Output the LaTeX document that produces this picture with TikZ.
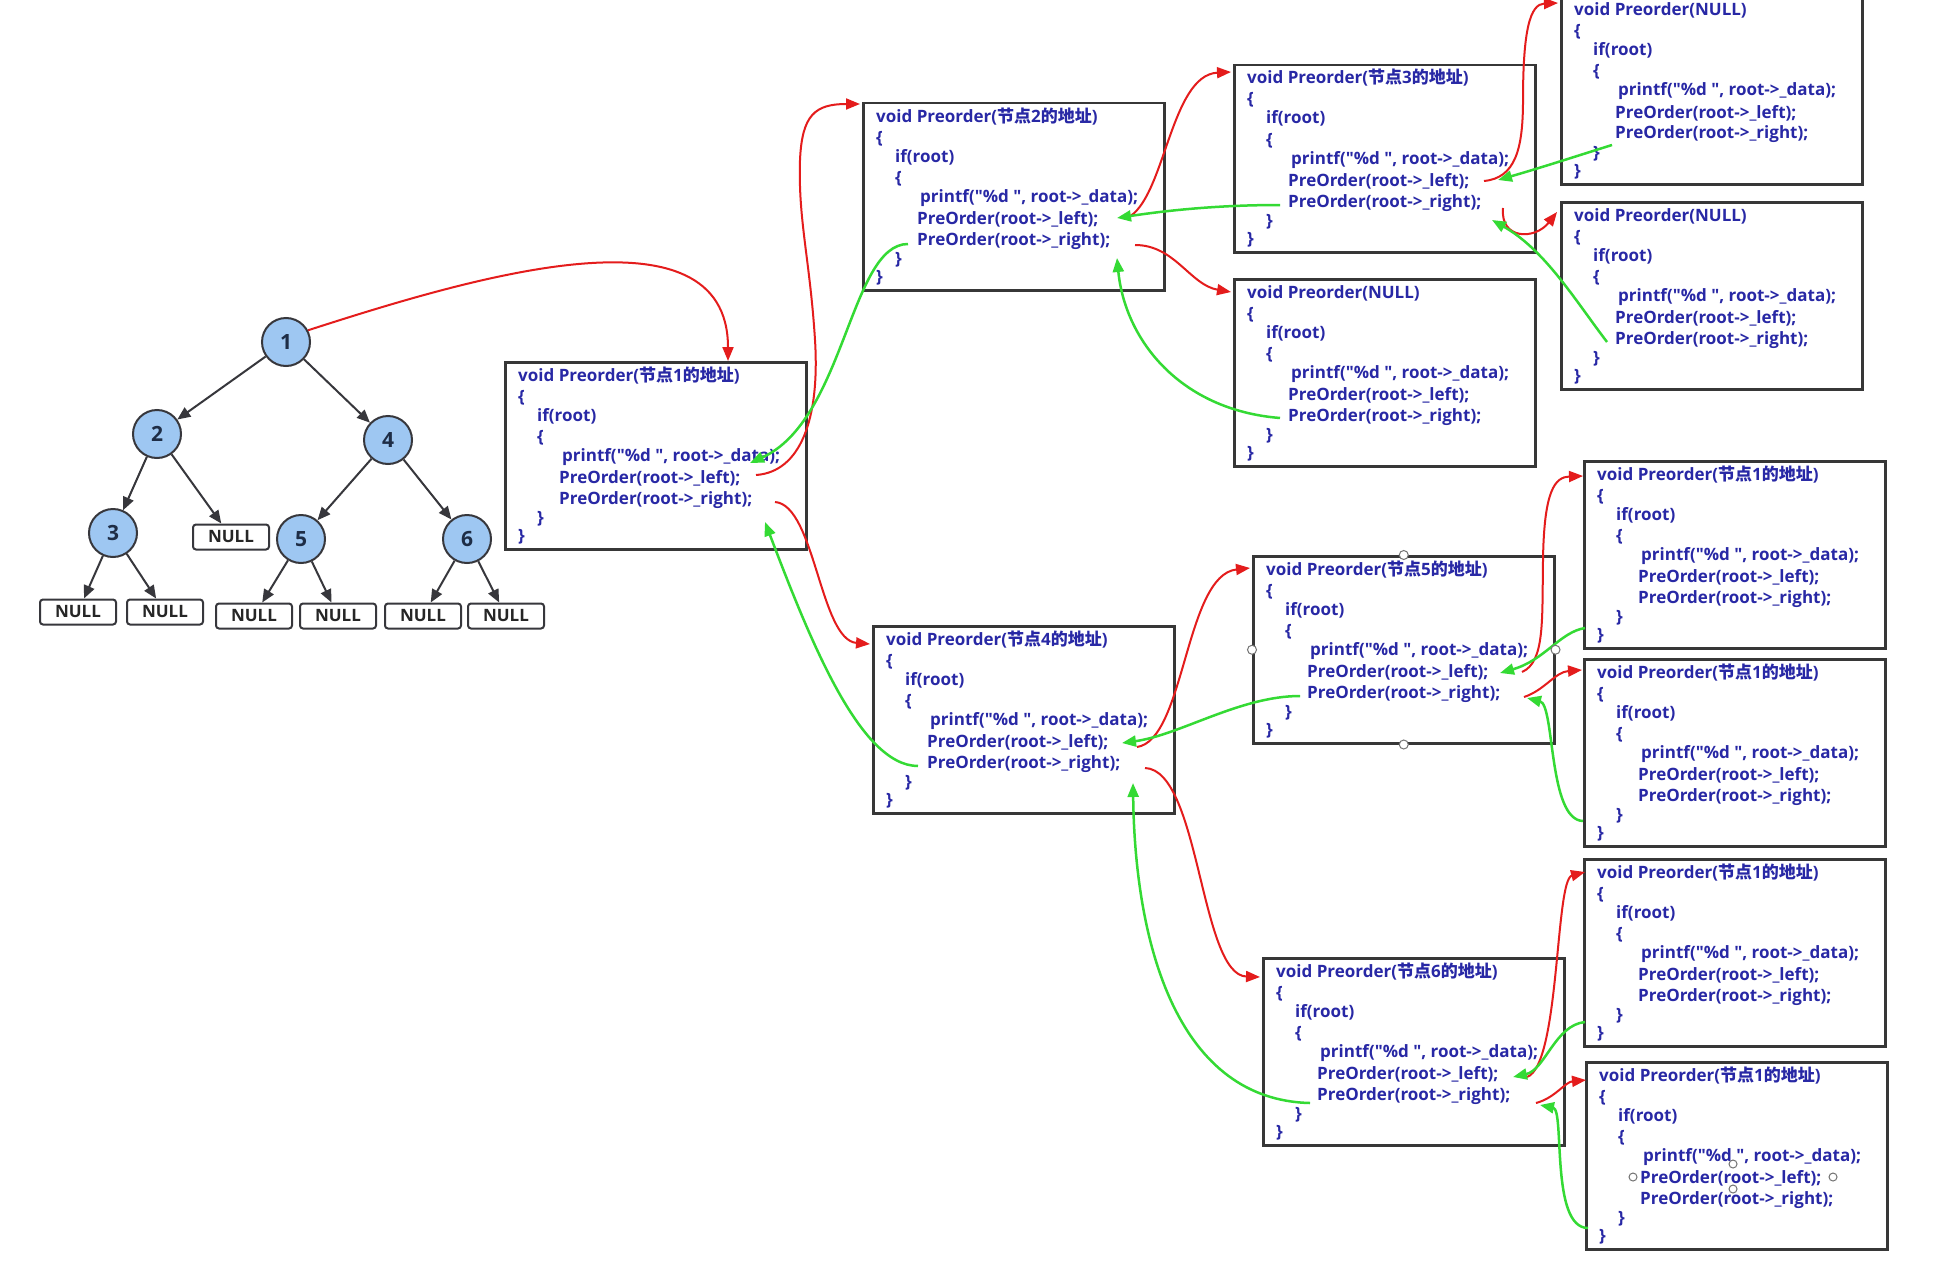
\documentclass[tikz,border=0pt]{standalone}
\usepackage{fontspec}
\newfontfamily\codefont{Open Sans}
\newfontfamily\cjk{Noto Sans CJK SC}
\usetikzlibrary{arrows.meta,calc}
\definecolor{codeblue}{RGB}{40,40,165}
\definecolor{redline}{RGB}{228,28,28}
\definecolor{greenline}{RGB}{52,218,52}
\definecolor{boxgray}{RGB}{55,55,55}
\definecolor{treeblue}{RGB}{158,199,242}
\definecolor{treeline}{RGB}{55,55,60}
\definecolor{numcolor}{RGB}{30,45,70}
\tikzset{
  cbox/.style={draw=boxgray, line width=2.5pt, minimum width=301pt, minimum height=187pt, inner sep=0pt, anchor=north west, fill=white},
  ctext/.style={anchor=base west, inner sep=0pt, font=\codefont\fontsize{17}{20}\selectfont\bfseries, text=codeblue},
  redarr/.style={draw=redline, line width=2pt, -{Triangle[length=14pt,width=11pt]}},
  greenarr/.style={draw=greenline, line width=2.5pt, -{Triangle[length=14pt,width=11pt]}},
  treearr/.style={draw=treeline, line width=2pt, -{Triangle[length=13pt,width=11pt]}},
  tnode/.style={circle, draw=treeline, line width=2pt, fill=treeblue, minimum size=48pt, inner sep=0pt, font=\codefont\fontsize{21}{21}\selectfont\bfseries, text=numcolor},
  nullbox/.style={rounded corners=3pt, draw=treeline, line width=2pt, fill=white, minimum width=76pt, minimum height=25pt, inner sep=0pt, font=\codefont\fontsize{17}{17}\selectfont\bfseries, text=black!85},
  handle/.style={circle, draw=black!55, line width=1pt, fill=white, minimum size=9pt, inner sep=0pt}
}
\newcommand{\mkcodebox}[4]{%
  \node[cbox] (#1) at (#2,#3) {};
  \node[ctext] (#1-t) at ([shift={(14,20)}]#1.north west) {#4};
  \node[ctext] (#1-a) at ([shift={(14,41)}]#1.north west) {\{};
  \node[ctext] (#1-i) at ([shift={(33,60)}]#1.north west) {if(root)};
  \node[ctext] (#1-b) at ([shift={(33,81)}]#1.north west) {\{};
  \node[ctext] (#1-d) at ([shift={(58,100)}]#1.north west) {printf("\%d ", root->\_data);};
  \node[ctext] (#1-l) at ([shift={(55,122)}]#1.north west) {PreOrder(root->\_left);};
  \node[ctext] (#1-r) at ([shift={(55,143)}]#1.north west) {PreOrder(root->\_right);};
  \node[ctext] (#1-c) at ([shift={(33,162)}]#1.north west) {\}};
  \node[ctext] (#1-e) at ([shift={(14,180)}]#1.north west) {\}};
}
\begin{document}
\begin{tikzpicture}[x=1pt,y=-1pt]
\fill[white] (0,0) rectangle (1942,1279);
\useasboundingbox (0,0) rectangle (1942,1279);

% tree
\node[tnode] (n1) at (286,342) {1};
\node[tnode] (n2) at (157,434) {2};
\node[tnode] (n4) at (388,440) {4};
\node[tnode] (n3) at (113,533) {3};
\node[tnode] (n5) at (301,539) {5};
\node[tnode] (n6) at (467,539) {6};
\node[nullbox] (nn2) at (231,537) {NULL};
\node[nullbox] (nl1) at (78,612) {NULL};
\node[nullbox] (nl2) at (165,612) {NULL};
\node[nullbox] (nl3) at (254,616) {NULL};
\node[nullbox] (nl4) at (338,616) {NULL};
\node[nullbox] (nl5) at (423,616) {NULL};
\node[nullbox] (nl6) at (506,616) {NULL};
\draw[treearr] (n1) -- (n2);
\draw[treearr] (n1) -- (n4);
\draw[treearr] (n2) -- (n3);
\draw[treearr] (n2) -- (nn2);
\draw[treearr] (n4) -- (n5);
\draw[treearr] (n4) -- (n6);
\draw[treearr] (n3) -- (nl1);
\draw[treearr] (n3) -- (nl2);
\draw[treearr] (n5) -- (nl3);
\draw[treearr] (n5) -- (nl4);
\draw[treearr] (n6) -- (nl5);
\draw[treearr] (n6) -- (nl6);

% code boxes
\mkcodebox{b1}{504}{361}{void Preorder({\cjk 节点}1{\cjk 的地址})}
\mkcodebox{b2}{862}{102}{void Preorder({\cjk 节点}2{\cjk 的地址})}
\mkcodebox{b3}{1233}{64}{void Preorder({\cjk 节点}3{\cjk 的地址})}
\mkcodebox{bn3}{1233}{278}{void Preorder(NULL)}
\mkcodebox{bt1}{1560}{-4}{void Preorder(NULL)}
\mkcodebox{bt2}{1560}{201}{void Preorder(NULL)}
\mkcodebox{b4}{872}{625}{void Preorder({\cjk 节点}4{\cjk 的地址})}
\mkcodebox{b5}{1252}{555}{void Preorder({\cjk 节点}5{\cjk 的地址})}
\mkcodebox{r1}{1583}{460}{void Preorder({\cjk 节点}1{\cjk 的地址})}
\mkcodebox{r2}{1583}{658}{void Preorder({\cjk 节点}1{\cjk 的地址})}
\mkcodebox{b6}{1262}{957}{void Preorder({\cjk 节点}6{\cjk 的地址})}
\mkcodebox{r3}{1583}{858}{void Preorder({\cjk 节点}1{\cjk 的地址})}
\mkcodebox{r4}{1585}{1061}{void Preorder({\cjk 节点}1{\cjk 的地址})}

% connectors
\draw[redarr] (n1.28) .. controls (470,278) and (728,200) .. ([shift={(224,0)}]b1.north west);
\draw[redarr] ([shift={(252,114)}]b1.north west) .. controls (800,472) and (820,420) .. (815,340) .. controls (810,260) and (798,220) .. (800,160) .. controls (802,115) and (815,104) .. ([shift={(-2,2)}]b2.north west);
\draw[greenarr] ([shift={(46,142)}]b2.north west) .. controls (850,244) and (845,420) .. ([shift={(246,102)}]b1.north west);
\draw[redarr] ([shift={(271,141)}]b1.north west) .. controls (815,505) and (820,640) .. ([shift={(-2,19)}]b4.north west);
\draw[greenarr] ([shift={(46,141)}]b4.north west) .. controls (860,766) and (810,640) .. ([shift={(261,161)}]b1.north west);
\draw[redarr] ([shift={(265,116)}]b2.north west) .. controls (1165,200) and (1170,75) .. ([shift={(-2,8)}]b3.north west);
\draw[greenarr] ([shift={(47,141)}]b3.north west) .. controls (1220,205) and (1170,210) .. ([shift={(255,116)}]b2.north west);
\draw[redarr] ([shift={(273,143)}]b2.north west) .. controls (1175,245) and (1190,285) .. ([shift={(-2,14)}]bn3.north west);
\draw[greenarr] ([shift={(47,140)}]bn3.north west) .. controls (1180,410) and (1125,340) .. ([shift={(255,156)}]b2.north west);
\draw[redarr] ([shift={(251,117)}]b3.north west) .. controls (1515,178) and (1523,150) .. (1523,100) .. controls (1523,30) and (1530,4) .. ([shift={(-2,7)}]bt1.north west);
\draw[greenarr] ([shift={(52,149)}]bt1.north west) .. controls (1580,155) and (1540,168) .. ([shift={(265,116)}]b3.north west);
\draw[redarr] ([shift={(270,144)}]b3.north west) .. controls (1500,240) and (1535,240) .. ([shift={(-3,11)}]bt2.north west);
\draw[greenarr] ([shift={(47,141)}]bt2.north west) .. controls (1575,300) and (1545,250) .. ([shift={(259,156)}]b3.north west);
\draw[redarr] ([shift={(265,122)}]b4.north west) .. controls (1185,740) and (1185,575) .. ([shift={(-2,13)}]b5.north west);
\draw[greenarr] ([shift={(48,141)}]b5.north west) .. controls (1240,696) and (1180,735) .. ([shift={(250,118)}]b4.north west);
\draw[redarr] ([shift={(273,143)}]b4.north west) .. controls (1200,770) and (1200,975) .. ([shift={(-2,20)}]b6.north west);
\draw[greenarr] ([shift={(48,146)}]b6.north west) .. controls (1180,1100) and (1135,950) .. ([shift={(261,158)}]b4.north west);
\draw[redarr] ([shift={(270,117)}]b5.north west) .. controls (1545,662) and (1542,620) .. (1543,560) .. controls (1544,490) and (1555,477) .. ([shift={(0,16)}]r1.north west);
\draw[greenarr] ([shift={(2,168)}]r1.north west) .. controls (1560,632) and (1545,660) .. ([shift={(248,118)}]b5.north west);
\draw[redarr] ([shift={(272,142)}]b5.north west) .. controls (1545,690) and (1555,672) .. ([shift={(-1,12)}]r2.north west);
\draw[greenarr] ([shift={(0,163)}]r2.north west) .. controls (1548,820) and (1555,705) .. ([shift={(275,143)}]b5.north west);
\draw[redarr] ([shift={(265,120)}]b6.north west) .. controls (1560,1065) and (1555,880) .. ([shift={(2,14)}]r3.north west);
\draw[greenarr] ([shift={(2,164)}]r3.north west) .. controls (1555,1025) and (1545,1070) .. ([shift={(251,120)}]b6.north west);
\draw[redarr] ([shift={(274,146)}]b6.north west) .. controls (1555,1098) and (1565,1082) .. ([shift={(1,19)}]r4.north west);
\draw[greenarr] ([shift={(3,167)}]r4.north west) .. controls (1550,1228) and (1565,1110) .. ([shift={(278,148)}]b6.north west);

% selection handles
\node[handle] (h1) at (b5.north) {};
\node[handle] (h2) at (b5.west) {};
\node[handle] (h3) at (b5.east) {};
\node[handle] (h4) at (b5.south) {};
\node[handle, minimum size=8pt] (h5) at (1633,1177) {};
\node[handle, minimum size=8pt] (h6) at (1733,1164) {};
\node[handle, minimum size=8pt] (h7) at (1833,1177) {};
\node[handle, minimum size=8pt] (h8) at (1733,1189) {};
\end{tikzpicture}
\end{document}
